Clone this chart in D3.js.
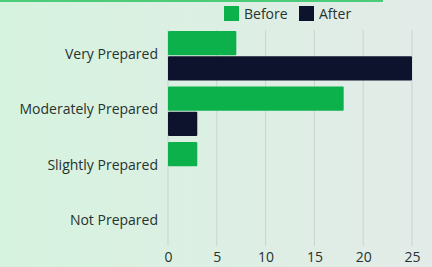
<!DOCTYPE html>
<html><head><meta charset="utf-8">
<script src="https://cdn.jsdelivr.net/npm/d3@7"></script>
<style>
html,body{margin:0;padding:0;overflow:hidden;}
svg{display:block;}
text{font-family:"Open Sans","Noto Sans",sans-serif;}
</style></head>
<body>
<script>
const categories = ["Very Prepared","Moderately Prepared","Slightly Prepared","Not Prepared"];
const seriesNames = ["Before","After"];
const before = [7,18,3,0];
const after = [25,3,0,0];
const xTicks = [0,5,10,15,20,25];
const colors = ["#0cb14b","#0e132d"];

const W=432,H=267;
const svg=d3.select("body").append("svg").attr("width",W).attr("height",H);
const defs=svg.append("defs");
const g0=defs.append("linearGradient").attr("id","bg").attr("x1","0").attr("x2","1").attr("y1","0").attr("y2","0");
g0.append("stop").attr("offset","0").attr("stop-color","#d6f3df");
g0.append("stop").attr("offset","1").attr("stop-color","#e3ebe8");
svg.append("rect").attr("width",W).attr("height",H).attr("fill","url(#bg)");
svg.append("rect").attr("x",0).attr("y",0).attr("width",383).attr("height",2).attr("fill","#4ccb78");

const x=d3.scaleLinear().domain([0,25]).range([168,412]);
const y=d3.scaleBand().domain(categories).range([28,250]).paddingInner(0.11).paddingOuter(0.055);
const ys=d3.scaleBand().domain(seriesNames).range([0,y.bandwidth()]).paddingInner(0.04);

// grid
svg.append("g").selectAll("line").data(xTicks).join("line")
  .attr("x1",d=>x(d)).attr("x2",d=>x(d)).attr("y1",30).attr("y2",246)
  .attr("stroke","#c9d3cf").attr("stroke-width",1);

const data=categories.map((c,i)=>({cat:c,vals:[before[i],after[i]]}));
const grp=svg.append("g").selectAll("g").data(data).join("g")
  .attr("transform",d=>`translate(0,${y(d.cat)})`);
grp.selectAll("rect").data(d=>d.vals.map((v,j)=>({v,s:seriesNames[j],j})).filter(e=>e.v>0)).join("rect")
  .attr("x",x(0)).attr("y",e=>ys(e.s)).attr("width",e=>x(e.v)-x(0)).attr("height",ys.bandwidth())
  .attr("fill",e=>colors[e.j]).attr("rx",1);

// y labels
svg.append("g").selectAll("text").data(categories).join("text")
  .attr("x",158).attr("y",d=>y(d)+y.bandwidth()/2-2).attr("dy","0.35em")
  .attr("text-anchor","end").attr("font-size",14).attr("fill","#26332e").text(d=>d);

// x tick labels
const xa=svg.append("g").attr("transform","translate(0,250)")
  .call(d3.axisBottom(x).tickValues(xTicks).tickSize(0).tickPadding(2.5));
xa.select(".domain").remove();
xa.selectAll("text").attr("font-size",14).attr("fill","#26332e").attr("font-family","'Open Sans','Noto Sans',sans-serif");

// legend
const leg=svg.append("g");
const lx=[224,299];
seriesNames.forEach((s,i)=>{
  leg.append("rect").attr("x",lx[i]).attr("y",6).attr("width",15).attr("height",15).attr("fill",colors[i]);
  leg.append("text").attr("x",lx[i]+20).attr("y",14).attr("dy","0.35em").attr("font-size",14).attr("fill","#26332e").text(s);
});
</script>
</body></html>
